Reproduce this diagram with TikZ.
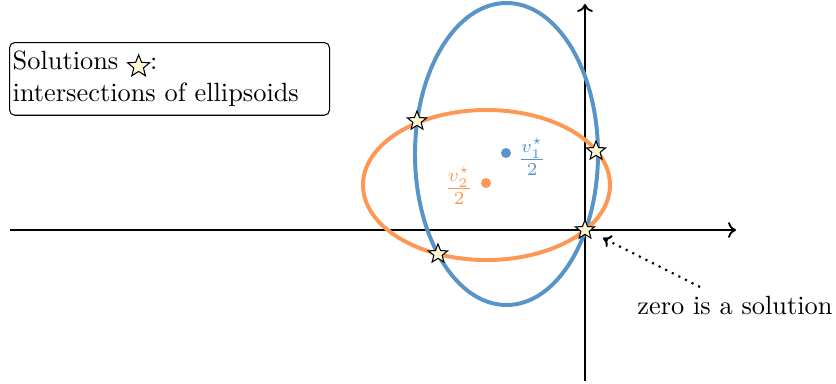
\documentclass[tikz,border=0pt]{standalone}
\usetikzlibrary{shapes.geometric,arrows.meta}
\definecolor{eblue}{RGB}{88,148,200}
\definecolor{eorange}{RGB}{252,152,84}
\definecolor{starfill}{RGB}{255,246,214}
\begin{document}
\begin{tikzpicture}[x=0.3794pt,y=-0.3794pt,
  solstar/.style={star,star points=5,star point ratio=2.3,draw=black,fill=starfill,line width=0.4pt,inner sep=0pt,minimum size=7.6pt,sharp corners},
  axis/.style={line width=0.7pt,-{To[length=3pt,width=6pt]}},
  ell/.style={line width=1.5pt}]
\useasboundingbox (0,0) rectangle (836,383);
\coordinate (xs) at (10,230);
\coordinate (xe) at (736,230);
\coordinate (ys) at (585,381);
\coordinate (ye) at (585,4);
\draw[axis] (xs) -- (xe);
\draw[axis] (ys) -- (ye);
\draw[ell,eblue] (506.5,154) ellipse [x radius=91.5*0.3794pt, y radius=151*0.3794pt];
\draw[ell,eorange] (486.5,185) ellipse [x radius=123.5*0.3794pt, y radius=75*0.3794pt];
\fill[eblue] (506,153) circle (1.9pt);
\fill[eorange] (486,183) circle (1.9pt);
\node[eblue,inner sep=0pt] (l1) at (532,157) {$\frac{v_1^\star}{2}$};
\node[eorange,inner sep=0pt] (l2) at (459,186) {$\frac{v_2^\star}{2}$};
\node[solstar] (s1) at (417,121) {};
\node[solstar] (s2) at (596,151) {};
\node[solstar] (s3) at (585,230) {};
\node[solstar] (s4) at (438,254) {};
\node[draw,rounded corners=2pt,align=left,anchor=north west,inner xsep=1.2pt,inner ysep=3.3pt,text width=320*0.3794pt-2.4pt,line width=0.4pt] (box) at (9,42)
 {Solutions \tikz[baseline=-0.7ex]\node[solstar,minimum size=8.8pt]{};:\\intersections of ellipsoids};
\node (zero) at (735,305) {zero is a solution};
\coordinate (arrs) at (700,287);
\coordinate (arre) at (603,238);
\draw[dotted,line width=0.8pt,-{To[length=3pt,width=5pt]}] (arrs) -- (arre);
\end{tikzpicture}
\end{document}
